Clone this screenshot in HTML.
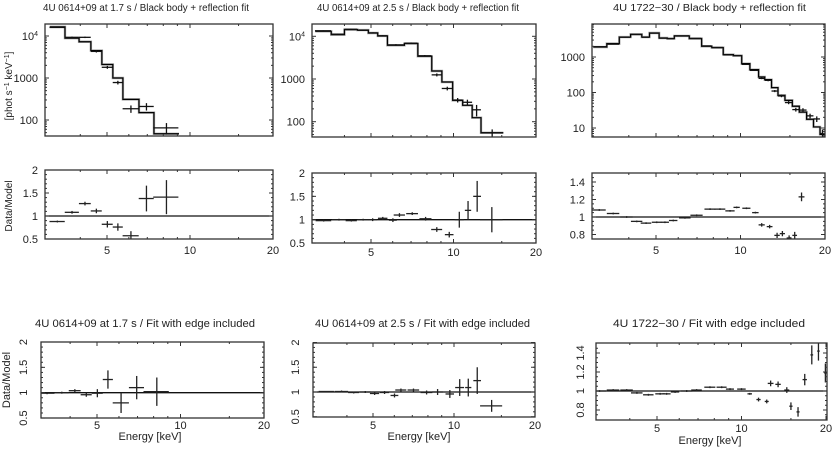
<!DOCTYPE html>
<html><head><meta charset="utf-8">
<style>
html,body{margin:0;padding:0;background:#fff;}
svg{display:block;font-family:"Liberation Sans",sans-serif;}
</style></head>
<body>
<svg id="fig" width="833" height="450" viewBox="0 0 833 450" xmlns="http://www.w3.org/2000/svg">
<rect x="0" y="0" width="833" height="450" fill="#fff"/>
</svg>
<script>
// ---------------- DATA ----------------
// Panel 1: 4U 0614+09 at 1.7 s
const p1Edges = [3.10,3.52,3.96,4.37,4.79,5.25,5.71,6.53,7.40,9.12];
const p1Model = [16500,8900,7300,4500,2100,1000,310,150,47];
const p1Data  = [16000,9300,9300,4300,1800,780,185,210,65];
const p1DataErr = [0.03,0.04,0.04,0.06,0.08,0.1,0.2,0.2,0.3];
const p1Res    = [0.88,1.08,1.27,1.11,0.82,0.76,0.57,1.38,1.41];
const p1ResErr = [0.02,0.03,0.04,0.05,0.07,0.08,0.1,0.28,0.37];
const b1Res    = [0.99,1.0,1.04,0.96,0.99,1.26,0.80,1.10,1.02];
const b1ResErr = [0.02,0.02,0.03,0.04,0.08,0.18,0.2,0.23,0.28];

// Panel 2: 4U 0614+09 at 2.5 s
const p2Edges = [3.13,3.58,4.00,4.46,4.89,5.29,5.74,6.62,7.41,8.33,9.07,9.93,10.8,11.7,12.6,15.2];
const p2Model = [13100,10950,14350,14000,11950,10170,6150,6760,3400,1540,850,316,242,124,55];
const p2Data  = [13500,11200,14600,13800,12000,10300,6300,6900,3500,1250,600,320,285,190,55];
const p2DataErr = [0.02,0.02,0.02,0.02,0.03,0.03,0.04,0.04,0.04,0.08,0.1,0.12,0.15,0.3,0.2];
const p2ResE    = [3.36,3.82,4.24,4.68,5.07,5.52,6.01,6.35,7.07,7.91,8.69,9.65,10.5,11.3,12.2,13.8];
const p2ResX    = [0.22,0.22,0.2,0.22,0.2,0.22,0.2,0.3,0.35,0.4,0.4,0.35,0.4,0.3,0.4,1.3];
const p2Res     = [0.98,1.0,0.98,1.0,1.0,1.03,0.99,1.1,1.13,1.02,0.79,0.68,1.0,1.2,1.5,1.0];
const p2ResErr  = [0.02,0.02,0.02,0.02,0.03,0.03,0.04,0.04,0.03,0.04,0.05,0.06,0.17,0.2,0.33,0.27];
const b2Res     = [1.01,1.01,0.99,1.0,0.97,0.99,0.93,1.04,1.04,0.99,1.0,0.96,1.09,1.09,1.23,0.72];
const b2ResErr  = [0.01,0.02,0.02,0.02,0.03,0.03,0.04,0.03,0.03,0.04,0.06,0.08,0.17,0.18,0.27,0.12];

// Panel 3: 4U 1722-30
const p3Edges = [2.99,3.34,3.70,4.06,4.45,4.74,5.13,5.48,5.81,6.57,7.27,7.90,8.68,9.43,10.1,10.8,11.6,12.2,12.9,13.6,14.4,15.3,16.2,17.2,18.2,19.2,20.0];
const p3Model = [1910,2380,3650,4350,3650,4740,3430,3300,3910,3300,2000,1840,1170,1090,650,440,274,230,137,83,60,41,28,17.6,10.7,6.6];
const p3Data  = [1950,2300,3600,4300,3600,4700,3400,3300,3950,3350,2050,1850,1150,1100,620,420,250,220,110,80,52,33,32,22,18,7];
const p3DataErr = [0.02,0.02,0.02,0.02,0.02,0.02,0.02,0.02,0.02,0.02,0.02,0.02,0.03,0.03,0.03,0.04,0.05,0.06,0.07,0.08,0.1,0.12,0.13,0.15,0.18,0.3];
const p3ResE   = [3.14,3.52,3.93,4.27,4.61,5.03,5.38,5.76,6.34,6.98,7.79,8.45,9.18,9.69,10.5,11.3,11.9,12.7,13.5,14.1,14.9,15.6,16.5];
const p3ResX   = [0.17,0.18,0.2,0.2,0.2,0.2,0.18,0.2,0.3,0.35,0.35,0.38,0.35,0.25,0.35,0.3,0.3,0.3,0.3,0.3,0.3,0.3,0.4];
const p3Res    = [1.08,1.04,1.0,0.95,0.93,0.94,0.94,0.96,0.99,1.02,1.09,1.09,1.07,1.11,1.10,1.05,0.91,0.89,0.79,0.81,0.76,0.79,1.23];
const p3ResErr = [0.01,0.01,0.01,0.01,0.01,0.01,0.01,0.01,0.01,0.01,0.01,0.01,0.01,0.01,0.01,0.01,0.02,0.02,0.03,0.03,0.03,0.04,0.05];
const b3ResE   = [3.12,3.49,3.90,4.24,4.66,5.13,5.41,5.80,6.38,6.92,7.72,8.50,9.10,10.0,10.7,11.5,12.3,12.7,13.5,14.5,15.0,15.9,16.8,17.8,18.8,19.9];
const b3ResX   = [0.17,0.18,0.2,0.2,0.2,0.2,0.18,0.2,0.3,0.3,0.35,0.35,0.3,0.35,0.2,0.2,0.2,0.3,0.3,0.3,0.2,0.2,0.3,0.2,0.2,0.2];
const b3Res    = [1.0,1.01,1.01,0.98,0.96,0.97,0.97,0.99,1.0,1.01,1.04,1.04,1.02,1.02,0.97,0.91,0.89,1.08,1.07,1.01,0.84,0.78,1.12,1.38,1.42,1.19];
const b3ResErr = [0.01,0.01,0.01,0.01,0.01,0.01,0.01,0.01,0.01,0.01,0.01,0.01,0.01,0.01,0.01,0.02,0.02,0.03,0.03,0.03,0.04,0.05,0.06,0.1,0.1,0.1];

const xMajor = [5,10,20];
const xMajorLabels = ['5','10','20'];
const xMinor = [4,6,7,8,9,15];

// ---------------- DRAWING ----------------
const NS = 'http://www.w3.org/2000/svg';
const svg = document.getElementById('fig');
function el(tag, parent, name, attrs){
  const e = document.createElementNS(NS, tag);
  for (const k in attrs) e.setAttribute(k, attrs[k]);
  
  
  parent.appendChild(e);
  return e;
}
function makeX(px5, oct){ return E => px5 + oct*Math.log2(E/5); }
function makeLogY(p1000, dec){ return v => p1000 - dec*Math.log10(v/1000); }
function makeLinY(p1, k){ return v => p1 - k*(v-1); }
let clipId = 0;
function frame(name, x0, x1, y0, y1){
  const g = el('g', svg, name, {});
  const id = 'c' + (clipId++);
  const cp = el('clipPath', g, name + '-clip', {id: id});
  el('rect', cp, name + '-clip-rect', {x: x0, y: y0, width: x1-x0, height: y1-y0});
  const marks = el('g', g, name + '-marks', {'clip-path': 'url(#' + id + ')'});
  el('rect', g, name + '-frame', {x: x0, y: y0, width: x1-x0, height: y1-y0, fill: 'none', stroke: '#333', 'stroke-width': 1.3});
  return {g, marks, x0, x1, y0, y1};
}
function xTicks(P, xs, labelY){
  xMajor.forEach((E,i)=>{
    const x = xs(E);
    if (x < P.x0-1 || x > P.x1+1) return;
    el('line', P.g, 'x-major-tick', {x1:x, x2:x, y1:P.y1, y2:P.y1-4, stroke:'#333'});
    el('line', P.g, 'x-major-tick', {x1:x, x2:x, y1:P.y0, y2:P.y0+4, stroke:'#333'});
    if (labelY){
      const t = el('text', P.g, 'x-tick-label', {x:x, y:labelY, 'text-anchor':'middle', 'font-size':11, fill:'#222'});
      t.textContent = xMajorLabels[i];
    }
  });
  xMinor.forEach(E=>{
    const x = xs(E);
    if (x <= P.x0 || x >= P.x1) return;
    el('line', P.g, 'x-minor-tick', {x1:x, x2:x, y1:P.y1, y2:P.y1-2, stroke:'#333'});
    el('line', P.g, 'x-minor-tick', {x1:x, x2:x, y1:P.y0, y2:P.y0+2, stroke:'#333'});
  });
}
function logYTicks(P, ys, decades, labels){
  decades.forEach((d,i)=>{
    const y = ys(d);
    el('line', P.g, 'y-major-tick', {x1:P.x0, x2:P.x0+4, y1:y, y2:y, stroke:'#333'});
    el('line', P.g, 'y-major-tick', {x1:P.x1, x2:P.x1-4, y1:y, y2:y, stroke:'#333'});
    const t = el('text', P.g, 'y-tick-label', {x:P.x0-7, y:y+4, 'text-anchor':'end', 'font-size':11, fill:'#222'});
    if (labels[i] === '10^4'){
      t.textContent = '10';
      const s = el('tspan', t, 'y-tick-exponent', {dy:-4, 'font-size':7});
      s.textContent = '4';
    } else t.textContent = labels[i];
  });
  for (let d = 1; d <= 1e4; d *= 10){
    for (let m = 2; m <= 9; m++){
      const y = ys(d*m);
      if (y <= P.y0 || y >= P.y1) continue;
      el('line', P.g, 'y-minor-tick', {x1:P.x0, x2:P.x0+2, y1:y, y2:y, stroke:'#333'});
      el('line', P.g, 'y-minor-tick', {x1:P.x1, x2:P.x1-2, y1:y, y2:y, stroke:'#333'});
    }
  }
}
function linYTicks(P, ys, vals, labels, minorStep, rotated, lx){
  vals.forEach((v,i)=>{
    const y = ys(v);
    el('line', P.g, 'y-major-tick', {x1:P.x0, x2:P.x0+4, y1:y, y2:y, stroke:'#333'});
    el('line', P.g, 'y-major-tick', {x1:P.x1, x2:P.x1-4, y1:y, y2:y, stroke:'#333'});
    let t;
    if (rotated){
      t = el('text', P.g, 'y-tick-label', {x:lx, y:y, 'text-anchor':'middle', 'font-size':11, fill:'#222', transform:'rotate(-90 '+lx+' '+y+')'});
    } else {
      t = el('text', P.g, 'y-tick-label', {x:P.x0-7, y:y+4, 'text-anchor':'end', 'font-size':11, fill:'#222'});
    }
    t.textContent = labels[i];
  });
  for (let v = vals[0]-minorStep; v < vals[vals.length-1]+minorStep*2; v += minorStep){
    const y = ys(v);
    if (y <= P.y0+1 || y >= P.y1-1) continue;
    el('line', P.g, 'y-minor-tick', {x1:P.x0, x2:P.x0+2, y1:y, y2:y, stroke:'#333'});
    el('line', P.g, 'y-minor-tick', {x1:P.x1, x2:P.x1-2, y1:y, y2:y, stroke:'#333'});
  }
}
function histogram(P, xs, ys, edges, vals){
  let d = '';
  vals.forEach((v,i)=>{
    const xa = xs(edges[i]), xb = xs(edges[i+1]), y = ys(v);
    d += (i===0 ? 'M'+xa+','+y : 'L'+xa+','+y) + 'L'+xb+','+y;
  });
  el('path', P.marks, 'model-histogram-shadow', {d:d, fill:'none', stroke:'#aaa', 'stroke-width':2.4});
  el('path', P.marks, 'model-histogram', {d:d, fill:'none', stroke:'#000', 'stroke-width':1.2});
}
function crosses(P, xs, ys, E, xe, v, ylo, yhi, name, color){
  E.forEach((e,i)=>{
    const x = xs(e), y = ys(v[i]);
    el('line', P.marks, name, {x1:xs(e-xe[i]), x2:xs(e+xe[i]), y1:y, y2:y, stroke:color, 'stroke-width':1.3});
    el('line', P.marks, name + '-error', {x1:x, x2:x, y1:ys(ylo[i]), y2:ys(yhi[i]), stroke:color, 'stroke-width':1.3});
  });
}
function hline(P, y, name){
  el('line', P.marks, name, {x1:P.x0, x2:P.x1, y1:y, y2:y, stroke:'#111', 'stroke-width':1.3});
}
function text(s, x, y, size, name, opts){
  const a = Object.assign({x:x, y:y, 'font-size':size, fill:'#222'}, opts||{});
  const t = el('text', svg, name, a);
  t.textContent = s;
  return t;
}
function binCenters(edges){ return edges.slice(0,-1).map((e,i)=>Math.sqrt(e*edges[i+1])); }
function binHalf(edges){ return edges.slice(0,-1).map((e,i)=>(edges[i+1]-e)/2); }
function spectrumPanel(name, geo, edges, model, data, rel){
  const P = frame(name, geo.x0, geo.x1, geo.y0, geo.y1);
  const xs = makeX(geo.px5, geo.oct), ys = makeLogY(geo.p1000, geo.dec);
  histogram(P, xs, ys, edges, model);
  const c = binCenters(edges), h = binHalf(edges);
  crosses(P, xs, ys, c, h, data, data.map((d,i)=>d*(1-rel[i])), data.map((d,i)=>d*(1+rel[i])), 'data-point', '#111');
  xTicks(P, xs, null);
  logYTicks(P, ys, geo.decades, geo.labels);
}
function residPanel(name, geo, E, xe, v, err, yv, yl, minor, rotated, lx, labelY){
  const P = frame(name, geo.x0, geo.x1, geo.y0, geo.y1);
  const xs = makeX(geo.px5, geo.oct), ys = makeLinY(geo.p1, geo.k);
  hline(P, ys(1), 'unity-line');
  crosses(P, xs, ys, E, xe, v, v.map((d,i)=>d-err[i]), v.map((d,i)=>d+err[i]), 'residual-point', '#222');
  xTicks(P, xs, labelY);
  linYTicks(P, ys, yv, yl, minor, rotated, lx);
}

// ----- top row spectra -----
spectrumPanel('spectrum-panel-1', {x0:45,x1:273,y0:24,y1:136,px5:107,oct:83,p1000:78,dec:42,decades:[1e4,1000,100],labels:['10^4','1000','100']}, p1Edges, p1Model, p1Data, p1DataErr);
spectrumPanel('spectrum-panel-2', {x0:312,x1:536,y0:24,y1:137,px5:371,oct:82.5,p1000:79,dec:42.7,decades:[1e4,1000,100],labels:['10^4','1000','100']}, p2Edges, p2Model, p2Data, p2DataErr);
spectrumPanel('spectrum-panel-3', {x0:592,x1:825,y0:24,y1:137,px5:656,oct:84.5,p1000:57,dec:35.5,decades:[1000,100,10],labels:['1000','100','10']}, p3Edges, p3Model, p3Data, p3DataErr);

// ----- top row residuals -----
residPanel('residual-panel-1', {x0:45,x1:273,y0:170,y1:239,px5:107,oct:83,p1:216,k:46}, binCenters(p1Edges), binHalf(p1Edges), p1Res, p1ResErr, [0.5,1,1.5,2], ['0.5','1','1.5','2'], 0.1, false, 0, 254);
residPanel('residual-panel-2', {x0:312,x1:536,y0:173,y1:243,px5:371,oct:82.5,p1:219.7,k:46.7}, p2ResE, p2ResX, p2Res, p2ResErr, [0.5,1,1.5,2], ['0.5','1','1.5','2'], 0.1, false, 0, 256);
residPanel('residual-panel-3', {x0:592,x1:825,y0:173,y1:239,px5:656,oct:84.5,p1:217,k:87.5}, p3ResE, p3ResX, p3Res, p3ResErr, [0.8,1,1.2,1.4], ['0.8','1','1.2','1.4'], 0.05, false, 0, 254);

// ----- bottom row residuals (edge included) -----
residPanel('edge-residual-panel-1', {x0:41,x1:264,y0:342,y1:418,px5:97,oct:83.5,p1:392.7,k:50.7}, binCenters(p1Edges), binHalf(p1Edges), b1Res, b1ResErr, [0.5,1,1.5,2], ['0.5','1','1.5','2'], 0.1, true, 27, 429);
residPanel('edge-residual-panel-2', {x0:313,x1:535,y0:343,y1:417,px5:373,oct:81,p1:392,k:49.5}, p2ResE, p2ResX, b2Res, b2ResErr, [0.5,1,1.5,2], ['0.5','1','1.5','2'], 0.1, true, 299, 429);
residPanel('edge-residual-panel-3', {x0:596,x1:827,y0:343,y1:420,px5:657,oct:84.5,p1:391,k:95}, b3ResE, b3ResX, b3Res, b3ResErr, [0.8,1,1.2,1.4], ['0.8','1','1.2','1.4'], 0.05, true, 584, 432);

// ----- titles and axis labels -----
text('4U 0614+09 at 1.7 s / Black body + reflection fit', 43, 11, 10, 'panel-1-title', {textLength:206, lengthAdjust:'spacingAndGlyphs'});
text('4U 0614+09 at 2.5 s / Black body + reflection fit', 317, 11, 10, 'panel-2-title', {textLength:202, lengthAdjust:'spacingAndGlyphs'});
text('4U 1722\u221230 / Black body + reflection fit', 613, 11, 10, 'panel-3-title', {textLength:193, lengthAdjust:'spacingAndGlyphs'});
text('4U 0614+09 at 1.7 s / Fit with edge included', 35, 327, 11, 'edge-panel-1-title', {textLength:220, lengthAdjust:'spacingAndGlyphs'});
text('4U 0614+09 at 2.5 s / Fit with edge included', 315, 327, 11, 'edge-panel-2-title', {textLength:215, lengthAdjust:'spacingAndGlyphs'});
text('4U 1722\u221230 / Fit with edge included', 613, 327, 11, 'edge-panel-3-title', {textLength:192, lengthAdjust:'spacingAndGlyphs'});

const yl = text('[phot s', 12, 86, 10, 'y-axis-title-flux', {'text-anchor':'middle', transform:'rotate(-90 12 86)'});
yl.textContent = '';
const parts = [['[phot s',0],['\u22121',-3],[' keV',3],['\u22121',-3],[']',3]];
parts.forEach(p=>{
  const s = el('tspan', yl, 'y-axis-title-part', {dy:p[1], 'font-size': p[1]<0 ? 7 : 10});
  s.textContent = p[0];
});
text('Data/Model', 12, 206, 10, 'y-axis-title-ratio', {'text-anchor':'middle', transform:'rotate(-90 12 206)'});
text('Data/Model', 10, 380, 11, 'y-axis-title-ratio-edge', {'text-anchor':'middle', transform:'rotate(-90 10 380)'});
text('Energy [keV]', 150, 440, 11, 'x-axis-title-1', {'text-anchor':'middle'});
text('Energy [keV]', 419, 440, 11, 'x-axis-title-2', {'text-anchor':'middle'});
text('Energy [keV]', 710, 444, 11, 'x-axis-title-3', {'text-anchor':'middle'});
</script>
</body></html>
